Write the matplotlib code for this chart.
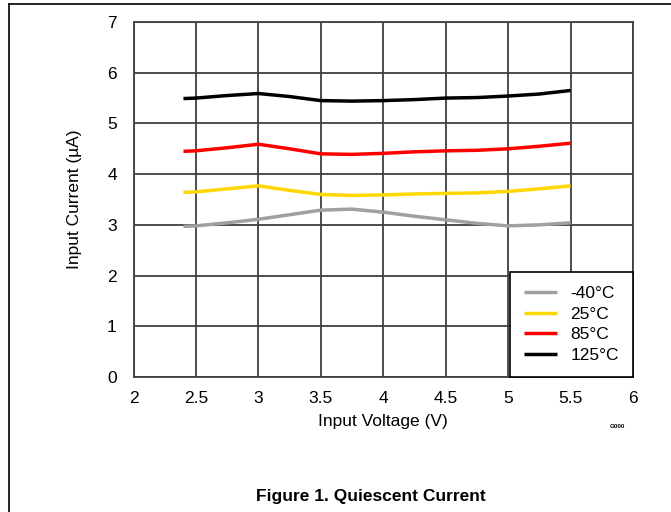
import matplotlib
matplotlib.use("Agg")
import matplotlib.pyplot as plt
from matplotlib.lines import Line2D

plt.rcParams['font.family'] = ['Liberation Sans', 'DejaVu Sans']

# Data
voltage = [2.4, 2.5, 2.75, 3.0, 3.25, 3.5, 3.75, 4.0, 4.25, 4.5, 4.75, 5.0, 5.25, 5.5]
i_m40 = [2.97, 2.98, 3.04, 3.11, 3.20, 3.29, 3.31, 3.25, 3.17, 3.10, 3.03, 2.98, 3.00, 3.04]
i_25 = [3.64, 3.65, 3.71, 3.77, 3.68, 3.60, 3.58, 3.59, 3.61, 3.62, 3.63, 3.66, 3.71, 3.77]
i_85 = [4.45, 4.46, 4.52, 4.59, 4.50, 4.40, 4.39, 4.41, 4.44, 4.46, 4.47, 4.50, 4.55, 4.61]
i_125 = [5.49, 5.50, 5.55, 5.59, 5.53, 5.45, 5.44, 5.45, 5.47, 5.50, 5.51, 5.54, 5.58, 5.65]

labels = ['-40°C', '25°C', '85°C', '125°C']
colors = ['#a0a0a0', '#ffd700', '#ff0000', '#000000']
series = [i_m40, i_25, i_85, i_125]

W, H = 671, 512
fig = plt.figure(figsize=(W / 100, H / 100), dpi=100)
ax = fig.add_axes([133.5 / W, 1 - 377 / H, (633 - 133.5) / W, (377 - 22) / H])

for y, c, lab in zip(series, colors, labels):
    ax.plot(voltage, y, color=c, lw=2.5, label=lab, solid_capstyle='butt')

ax.set_xlim(2, 6)
ax.set_ylim(0, 7)
ax.set_xticks([2, 2.5, 3, 3.5, 4, 4.5, 5, 5.5, 6])
ax.set_xticklabels(['2', '2.5', '3', '3.5', '4', '4.5', '5', '5.5', '6'])
ax.set_yticks(range(0, 8))
ax.grid(True, color='#404040', lw=1.3)
ax.set_axisbelow(True)
for s in ax.spines.values():
    s.set_color('#404040')
    s.set_linewidth(1.3)
ax.tick_params(axis='x', length=0, labelsize=12.5, pad=10)
ax.tick_params(axis='y', length=0, labelsize=12.5, pad=12)

ax.set_xlabel('Input Voltage (V)', fontsize=12.5, labelpad=6)
ax.set_ylabel('Input Current (µA)', fontsize=12.5, labelpad=18)

leg = ax.legend(loc='lower right', fontsize=12.5, frameon=True, fancybox=False,
                framealpha=1, borderaxespad=0, handlelength=1.9,
                handletextpad=0.8, labelspacing=0.32, borderpad=0.8)
leg.get_frame().set_edgecolor('black')
leg.get_frame().set_linewidth(1.2)

fig.text(617 / W, 1 - 426 / H, 'G000', fontsize=4.5, fontweight='bold',
         ha='center', va='center')
fig.text(371 / W, 1 - 496 / H, 'Figure 1. Quiescent Current', fontsize=12.5,
         fontweight='bold', ha='center', va='center')

# outer frame (left and top edges visible)
fig.add_artist(Line2D([8.5 / W, 8.5 / W], [0, 1 - 3.5 / H], color='black', lw=1.2))
fig.add_artist(Line2D([8.5 / W, 1], [1 - 3.5 / H, 1 - 3.5 / H], color='black', lw=1.2))

fig.savefig('out.png', dpi=100)
